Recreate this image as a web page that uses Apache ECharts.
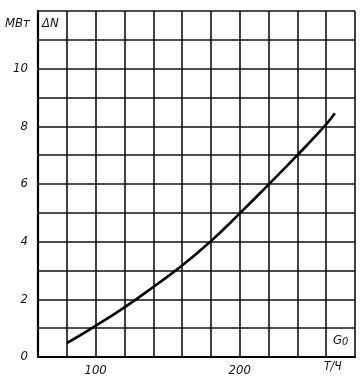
<!DOCTYPE html>
<html><head><meta charset="utf-8">
<script src="https://cdn.jsdelivr.net/npm/echarts@6/dist/echarts.min.js"></script>
<style>html,body{margin:0;padding:0;background:#fff}#c{width:364px;height:384px}</style>
</head><body><div id="c"></div>
<script>
const flowG0 = [80, 100, 120, 140, 160, 180, 200, 220, 240, 260, 266];
const powerDN = [0.48, 1.08, 1.72, 2.43, 3.17, 4.02, 4.98, 5.98, 7.0, 8.07, 8.45];
const xTickLabels = [100, 200];
const yTickLabels = [0, 2, 4, 6, 8, 10];
const yUnit = 'МВт', yName = 'ΔN', xName = 'G', xNameSub = '0', xUnit = 'Т/Ч';

const font = '"Liberation Sans Narrow", "DejaVu Sans Condensed", sans-serif';
const chart = echarts.init(document.getElementById('c'), null, {renderer: 'canvas'});
chart.setOption({
  backgroundColor: '#fff',
  animation: false,
  grid: {left: 38, right: 9, top: 11, bottom: 27},
  xAxis: {
    type: 'value', min: 60, max: 280, interval: 20,
    axisLine: {show: true, lineStyle: {color: '#000', width: 2.2}},
    axisTick: {show: false},
    splitLine: {show: true, lineStyle: {color: '#111', width: 1.6}},
    axisLabel: {
      color: '#111', fontSize: 13, fontStyle: 'italic', fontFamily: font, margin: 7,
      formatter: v => xTickLabels.includes(v) ? String(v) : ''
    }
  },
  yAxis: {
    type: 'value', min: 0, max: 12, interval: 1,
    axisLine: {show: true, lineStyle: {color: '#000', width: 2.2}},
    axisTick: {show: false},
    splitLine: {show: true, lineStyle: {color: '#111', width: 1.6}},
    axisLabel: {
      color: '#111', fontSize: 13, fontStyle: 'italic', fontFamily: font, margin: 10,
      formatter: v => yTickLabels.includes(v) ? String(v) : ''
    }
  },
  series: [{
    type: 'line', smooth: 0.5, showSymbol: false,
    lineStyle: {color: '#000', width: 2.6},
    data: flowG0.map((x, i) => [x, powerDN[i]])
  }],
  graphic: [
    {type: 'text', left: 5, top: 17, style: {text: yUnit, font: 'italic 13px ' + font, fill: '#111'}},
    {type: 'text', left: 42, top: 17, style: {text: yName, font: 'italic 13px ' + font, fill: '#111'}},
    {type: 'text', left: 333, top: 334, style: {
      text: '{g|' + xName + '}{s|' + xNameSub + '}',
      rich: {
        g: {font: 'italic 13px ' + font, fill: '#111'},
        s: {font: 'italic 11px ' + font, fill: '#111', padding: [4, 0, 0, 0]}
      }
    }},
    {type: 'text', left: 324, top: 361, style: {text: xUnit, font: 'italic 12px ' + font, fill: '#111'}}
  ]
});
</script></body></html>
